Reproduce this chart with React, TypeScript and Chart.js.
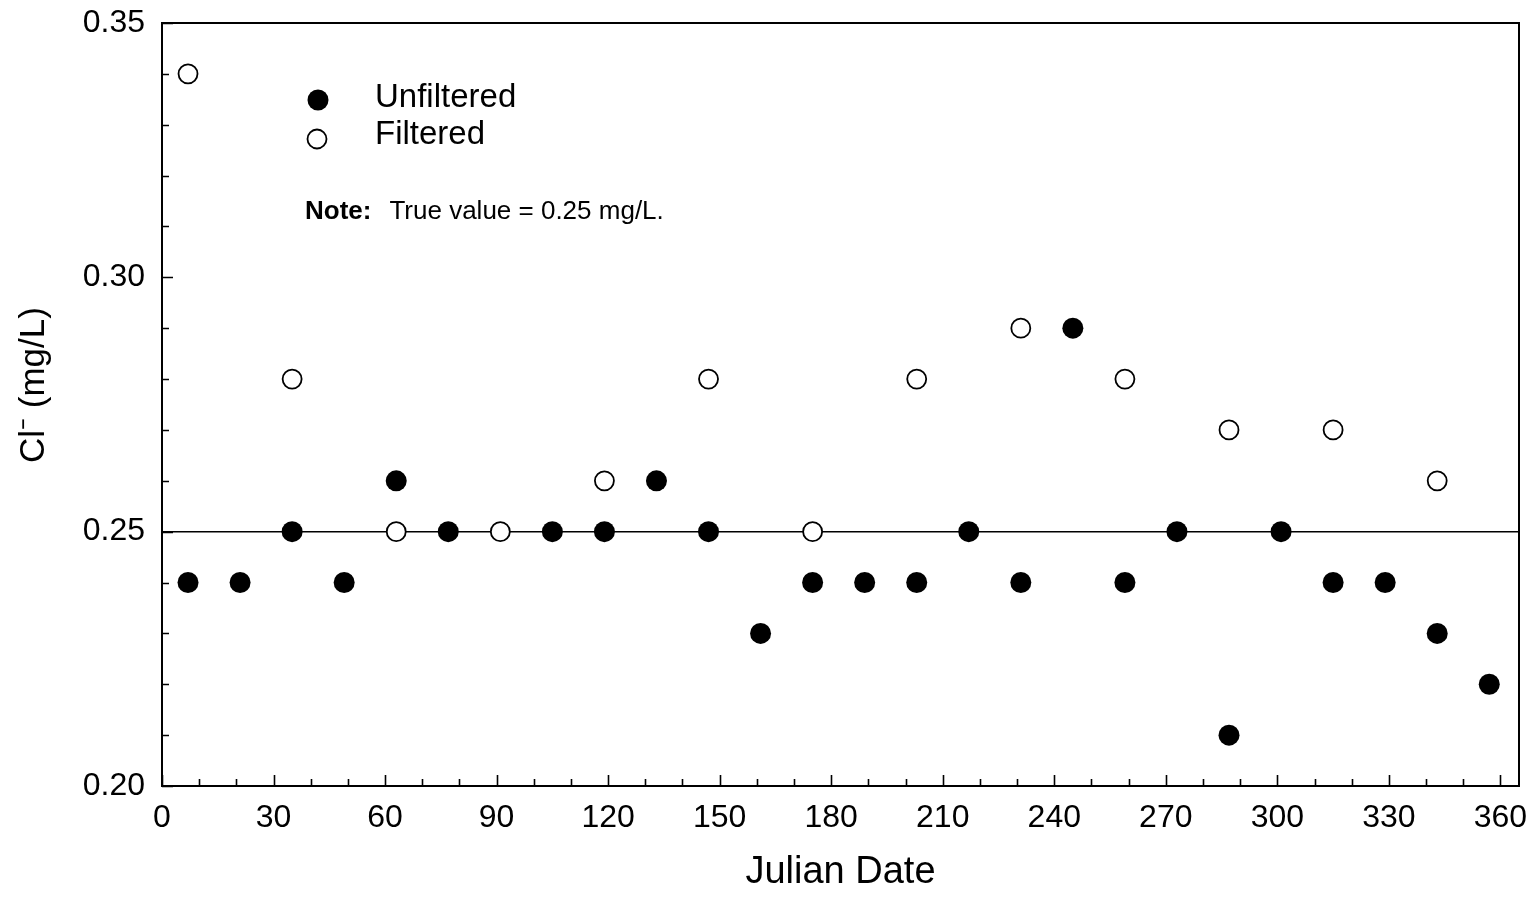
import React, { useEffect, useRef } from "react";
import { Chart, registerables } from "chart.js";

Chart.register(...registerables);

// ---- Data ----
const unfilteredDays = [7, 21, 35, 49, 63, 77, 105, 119, 133, 147, 161, 175, 189, 203, 217, 231, 245, 259, 273, 287, 301, 315, 329, 343, 357];
const unfilteredValues = [0.24, 0.24, 0.25, 0.24, 0.26, 0.25, 0.25, 0.25, 0.26, 0.25, 0.23, 0.24, 0.24, 0.24, 0.25, 0.24, 0.29, 0.24, 0.25, 0.21, 0.25, 0.24, 0.24, 0.23, 0.22];
const filteredDays = [7, 35, 63, 91, 119, 147, 175, 203, 231, 259, 287, 315, 343];
const filteredValues = [0.34, 0.28, 0.25, 0.25, 0.26, 0.28, 0.25, 0.28, 0.29, 0.28, 0.27, 0.27, 0.26];
const trueValue = 0.25;

// ---- Axis ticks ----
const xTickValues = [0, 30, 60, 90, 120, 150, 180, 210, 240, 270, 300, 330, 360];
const xMinorTickValues = [10, 20, 40, 50, 70, 80, 100, 110, 130, 140, 160, 170, 190, 200, 220, 230, 250, 260, 280, 290, 310, 320, 340, 350];
const yTickValues = [0.2, 0.25, 0.3, 0.35];
const yMinorTickValues = [0.21, 0.22, 0.23, 0.24, 0.26, 0.27, 0.28, 0.29, 0.31, 0.32, 0.33, 0.34];
const xRange = [0, 365];
const yRange = [0.2, 0.35];

const legendLabels = ["Unfiltered", "Filtered"];
const noteBold = "Note:";
const noteText = "True value = 0.25 mg/L.";

const FONT = "'Liberation Sans', Arial, Helvetica, sans-serif";

const framePlugin = {
  id: "frameAndTicks",
  afterDatasetsDraw(chart: any) {
    const { ctx, chartArea, scales } = chart;
    const { left, right, top, bottom } = chartArea;
    const x = scales.x;
    const y = scales.y;
    ctx.save();
    ctx.strokeStyle = "#000";
    ctx.lineWidth = 2;
    ctx.strokeRect(left, top, right - left, bottom - top);

    ctx.lineWidth = 1.6;
    ctx.beginPath();
    xTickValues.forEach((v) => {
      const px = Math.round(x.getPixelForValue(v)) + 0.5;
      ctx.moveTo(px, bottom);
      ctx.lineTo(px, bottom - 11);
    });
    xMinorTickValues.forEach((v) => {
      const px = Math.round(x.getPixelForValue(v)) + 0.5;
      ctx.moveTo(px, bottom);
      ctx.lineTo(px, bottom - 7);
    });
    yTickValues.forEach((v) => {
      const py = Math.round(y.getPixelForValue(v)) + 0.5;
      ctx.moveTo(left, py);
      ctx.lineTo(left + 11, py);
    });
    yMinorTickValues.forEach((v) => {
      const py = Math.round(y.getPixelForValue(v)) + 0.5;
      ctx.moveTo(left, py);
      ctx.lineTo(left + 7, py);
    });
    ctx.stroke();

    // Legend
    const lx = left + 156;
    const ly1 = top + 77;
    const ly2 = top + 116;
    ctx.fillStyle = "#000";
    ctx.beginPath();
    ctx.arc(lx, ly1, 10.5, 0, Math.PI * 2);
    ctx.fill();
    ctx.beginPath();
    ctx.arc(lx - 1, ly2, 9.5, 0, Math.PI * 2);
    ctx.fillStyle = "#fff";
    ctx.fill();
    ctx.lineWidth = 1.8;
    ctx.strokeStyle = "#000";
    ctx.stroke();

    ctx.fillStyle = "#000";
    ctx.textBaseline = "middle";
    ctx.textAlign = "left";
    ctx.font = `33px ${FONT}`;
    ctx.fillText(legendLabels[0], left + 213, ly1 - 2);
    ctx.fillText(legendLabels[1], left + 213, ly2 - 4);

    // Note
    ctx.font = `bold 26px ${FONT}`;
    const nx = left + 143;
    const ny = top + 189;
    ctx.fillText(noteBold, nx, ny);
    const w = ctx.measureText(noteBold).width;
    ctx.font = `26px ${FONT}`;
    ctx.fillText(noteText, nx + w + 18, ny);
    ctx.restore();
  },
};

export default function App() {
  const canvasRef = useRef<HTMLCanvasElement | null>(null);

  useEffect(() => {
    if (!canvasRef.current) return;
    const chart = new Chart(canvasRef.current, {
      type: "scatter",
      data: {
        datasets: [
          {
            label: legendLabels[0],
            data: unfilteredDays.map((d, i) => ({ x: d, y: unfilteredValues[i] })),
            pointRadius: 10.5,
            pointBackgroundColor: "#000",
            pointBorderColor: "#000",
            pointBorderWidth: 0,
            showLine: false,
            order: 1,
          },
          {
            label: legendLabels[1],
            data: filteredDays.map((d, i) => ({ x: d, y: filteredValues[i] })),
            pointRadius: 9.5,
            pointBackgroundColor: "#fff",
            pointBorderColor: "#000",
            pointBorderWidth: 1.8,
            showLine: false,
            order: 2,
          },
          {
            type: "line",
            label: "True value",
            data: xRange.map((d) => ({ x: d, y: trueValue })),
            borderColor: "#000",
            borderWidth: 1.5,
            pointRadius: 0,
            showLine: true,
            fill: false,
            order: 3,
          } as any,
        ],
      },
      options: {
        animation: false,
        responsive: false,
        devicePixelRatio: 1,
        layout: { padding: { top: 23, right: 20, left: 0, bottom: 0 } },
        plugins: {
          legend: { display: false },
          tooltip: { enabled: false },
        },
        scales: {
          x: {
            type: "linear",
            min: xRange[0],
            max: xRange[1],
            grid: { display: false, drawTicks: false },
            border: { display: false },
            afterBuildTicks: (scale: any) => {
              scale.ticks = xTickValues.map((v) => ({ value: v }));
            },
            afterFit: (scale: any) => {
              scale.height = 112;
              scale.paddingLeft = 0;
              scale.paddingRight = 0;
            },
            ticks: {
              autoSkip: false,
              maxRotation: 0,
              padding: 13,
              color: "#000",
              font: { family: FONT, size: 32 },
              callback: (v: any) => String(v),
            },
            title: {
              display: true,
              text: "Julian Date",
              color: "#000",
              font: { family: FONT, size: 38 },
              padding: { top: 0, bottom: 3 },
            },
          },
          y: {
            type: "linear",
            min: yRange[0],
            max: yRange[1],
            grid: { display: false, drawTicks: false },
            border: { display: false },
            afterBuildTicks: (scale: any) => {
              scale.ticks = yTickValues.map((v) => ({ value: v }));
            },
            afterFit: (scale: any) => {
              scale.width = 162;
              scale.paddingTop = 0;
              scale.paddingBottom = 0;
            },
            ticks: {
              autoSkip: false,
              padding: 17,
              color: "#000",
              font: { family: FONT, size: 32 },
              callback: (v: any) => Number(v).toFixed(2),
            },
            title: {
              display: true,
              text: "    Cl\u207B (mg/L)",
              color: "#000",
              font: { family: FONT, size: 35 },
              padding: { top: 13, bottom: 0 },
            },
          },
        },
      },
      plugins: [framePlugin],
    });
    return () => chart.destroy();
  }, []);

  return (
    <div style={{ position: "absolute", left: 0, top: 0, width: 1539, height: 898, background: "#fff" }}>
      <canvas ref={canvasRef} width={1539} height={898} style={{ display: "block", width: 1539, height: 898 }} />
    </div>
  );
}
